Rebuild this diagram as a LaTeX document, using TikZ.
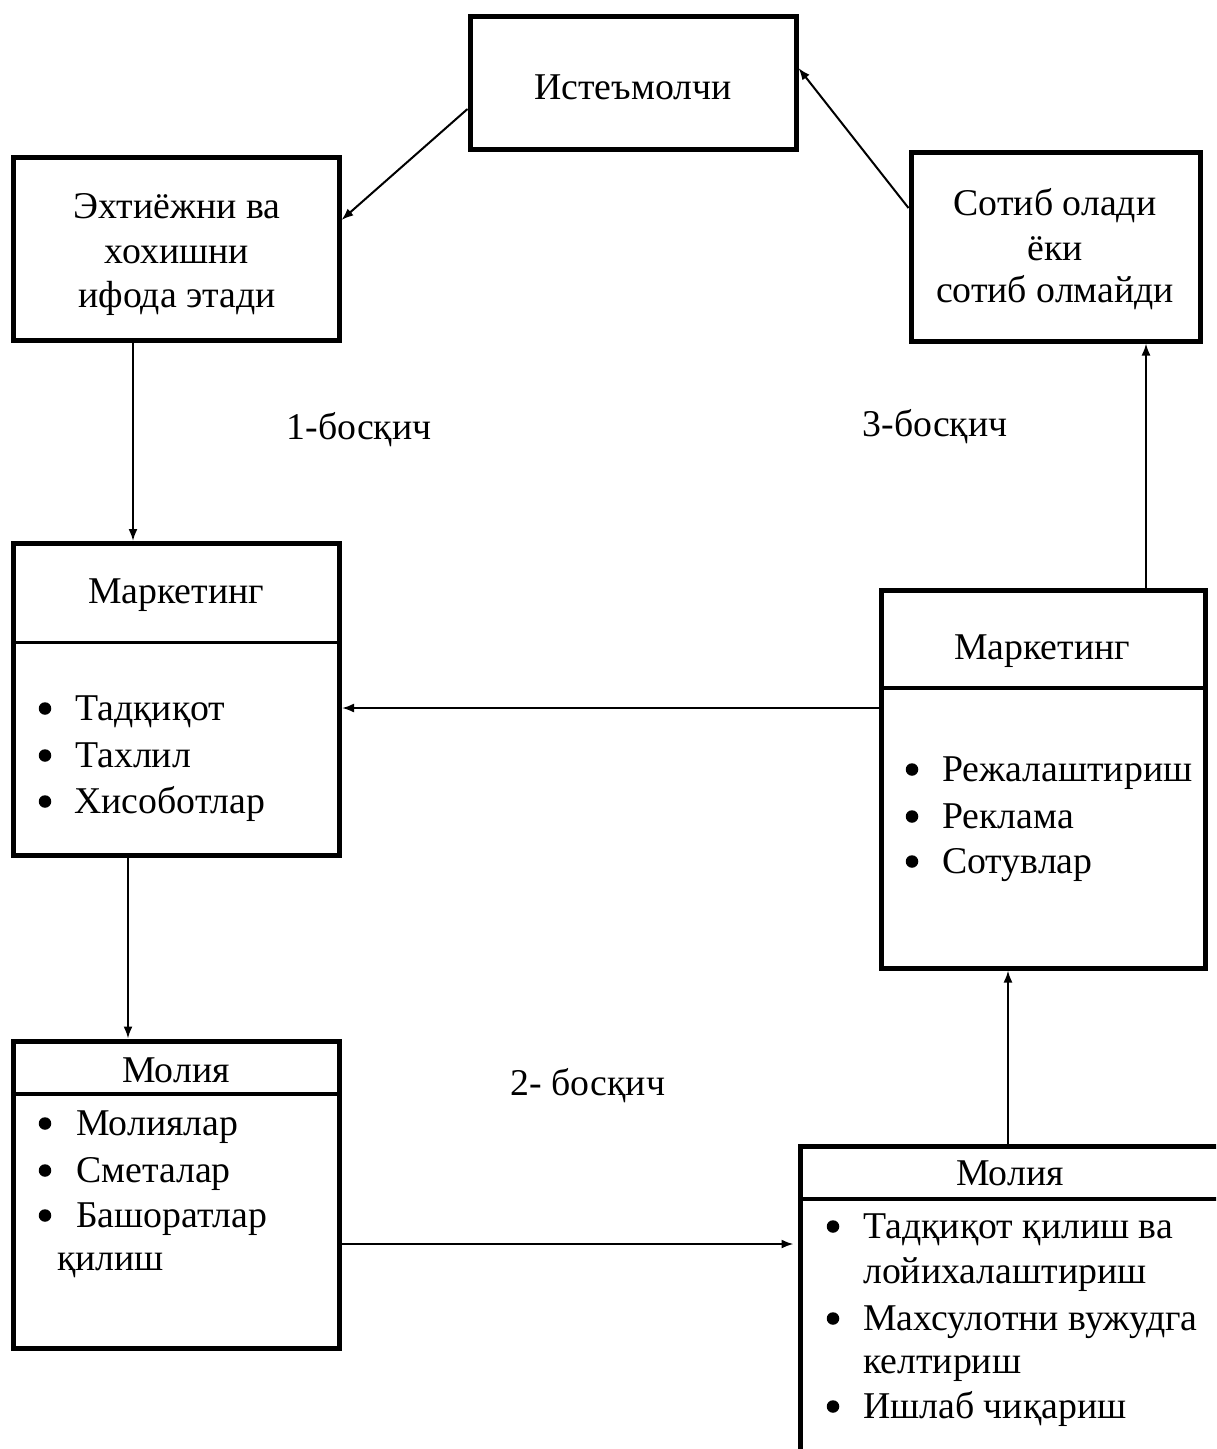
\documentclass[tikz,border=0pt]{standalone}
\usepackage{fontspec}
\setmainfont{Liberation Serif}
\usetikzlibrary{arrows.meta,calc}

\tikzset{
  box/.style={draw, line width=5pt, rectangle, inner sep=0pt},
  divider/.style={line width=3.5pt},
  txt/.style={font=\fontsize{37.8}{46}\selectfont, inner sep=0pt, anchor=base},
  itm/.style={txt, anchor=base west},
  dot/.style={circle, fill, draw=none, minimum size=12.5pt, inner sep=0pt},
  arr/.style={line width=2pt, -{Latex[length=12pt,width=9pt]}},
}

\begin{document}
\begin{tikzpicture}[x=1pt,y=-1pt]
  \useasboundingbox (0,0) rectangle (1216,1449);
  \fill[white] (0,0) rectangle (1216,1449);
  \clip (0,0) rectangle (1216,1449);

  % top row
  \node[box, minimum width=326pt, minimum height=133pt] (cons) at (633,82.5) {};
  \node[txt] (consT) at (633,99) {Истеъмолчи};

  \node[box, minimum width=326pt, minimum height=183pt] (need) at (176,248.5) {};
  \node[txt] (needA) at (177,218) {Эхтиёжни ва};
  \node[txt] (needB) at (177,263) {хохишни};
  \node[txt] (needC) at (177,307) {ифода этади};

  \node[box, minimum width=289pt, minimum height=189pt] (buy) at (1055.5,246.5) {};
  \node[txt] (buyA) at (1055,215) {Сотиб олади};
  \node[txt] (buyB) at (1055,260) {ёки};
  \node[txt] (buyC) at (1055,302) {сотиб олмайди};

  % marketing, left
  \node[box, minimum width=326pt, minimum height=311.5pt] (mkl) at (176.5,699.25) {};
  \draw[divider] (13.5,642.5) -- (339.5,642.5);
  \node[txt] (mklT) at (176,603) {Маркетинг};
  \node[dot] (mklb1) at (45,708.5) {};
  \node[itm] (mkl1) at (75,720) {Тадқиқот};
  \node[dot] (mklb2) at (45,755.5) {};
  \node[itm] (mkl2) at (75,767) {Тахлил};
  \node[dot] (mklb3) at (45,801.5) {};
  \node[itm] (mkl3) at (74,813) {Хисоботлар};

  % marketing, right
  \node[box, minimum width=323.5pt, minimum height=378pt] (mkr) at (1043.25,779) {};
  \draw[divider] (881.5,688) -- (1205,688);
  \node[txt] (mkrT) at (1042,659) {Маркетинг};
  \node[dot] (mkrb1) at (912,769.5) {};
  \node[itm] (mkr1) at (942,781) {Режалаштириш};
  \node[dot] (mkrb2) at (912,816.5) {};
  \node[itm] (mkr2) at (942,828) {Реклама};
  \node[dot] (mkrb3) at (912,861.5) {};
  \node[itm] (mkr3) at (942,873) {Сотувлар};

  % finance, left
  \node[box, minimum width=326pt, minimum height=307pt] (fnl) at (176,1194.5) {};
  \draw[divider] (13,1094) -- (339,1094);
  \node[txt] (fnlT) at (176,1082) {Молия};
  \node[dot] (fnlb1) at (45,1123.5) {};
  \node[itm] (fnl1) at (76,1135) {Молиялар};
  \node[dot] (fnlb2) at (45,1170.5) {};
  \node[itm] (fnl2) at (76,1182) {Сметалар};
  \node[dot] (fnlb3) at (45,1215.5) {};
  \node[itm] (fnl3) at (76,1227) {Башоратлар};
  \node[itm] (fnl4) at (57,1270) {қилиш};

  % finance, right
  \node[box, minimum width=420pt, minimum height=314pt] (fnr) at (1010,1303) {};
  \draw[divider] (800,1199) -- (1220,1199);
  \node[txt] (fnrT) at (1010,1185) {Молия};
  \node[dot] (fnrb1) at (833,1226.5) {};
  \node[itm] (fnr1) at (863,1238) {Тадқиқот қилиш ва};
  \node[itm] (fnr2) at (863,1283) {лойихалаштириш};
  \node[dot] (fnrb3) at (833,1318.5) {};
  \node[itm] (fnr3) at (863,1330) {Махсулотни вужудга};
  \node[itm] (fnr4) at (863,1373) {келтириш};
  \node[dot] (fnrb5) at (833,1406.5) {};
  \node[itm] (fnr5) at (863,1418) {Ишлаб чиқариш};

  % stage labels
  \node[txt] (st1) at (359,439) {1-босқич};
  \node[txt] (st3) at (935,436) {3-босқич};
  \node[txt] (st2) at (588,1095) {2- босқич};

  % connectors
  \draw[arr] ($(cons.west)+(0,26.5)$) -- ($(need.east)+(0,-28.5)$);
  \draw[arr] ($(buy.west)+(0,-38.5)$) -- ($(cons.east)+(0,-14.5)$);
  \draw[arr] ($(need.south)+(-43,0)$) coordinate (a1) -- (a1 |- mkl.north);
  \draw[arr] ($(mkr.west)+(0,-71)$) coordinate (a4) -- (a4 -| mkl.east);
  \draw[arr] ($(mkr.north)+(102.75,0)$) coordinate (a5) -- (a5 |- buy.south);
  \draw[arr] ($(mkl.south)+(-48.5,0)$) coordinate (a6) -- (a6 |- fnl.north);
  \draw[arr, shorten >=4pt] ($(fnl.east)+(0,49.5)$) coordinate (a7) -- (a7 -| fnr.west);
  \draw[arr] ($(fnr.north)+(-2,0)$) coordinate (a8) -- (a8 |- mkr.south);
\end{tikzpicture}
\end{document}
